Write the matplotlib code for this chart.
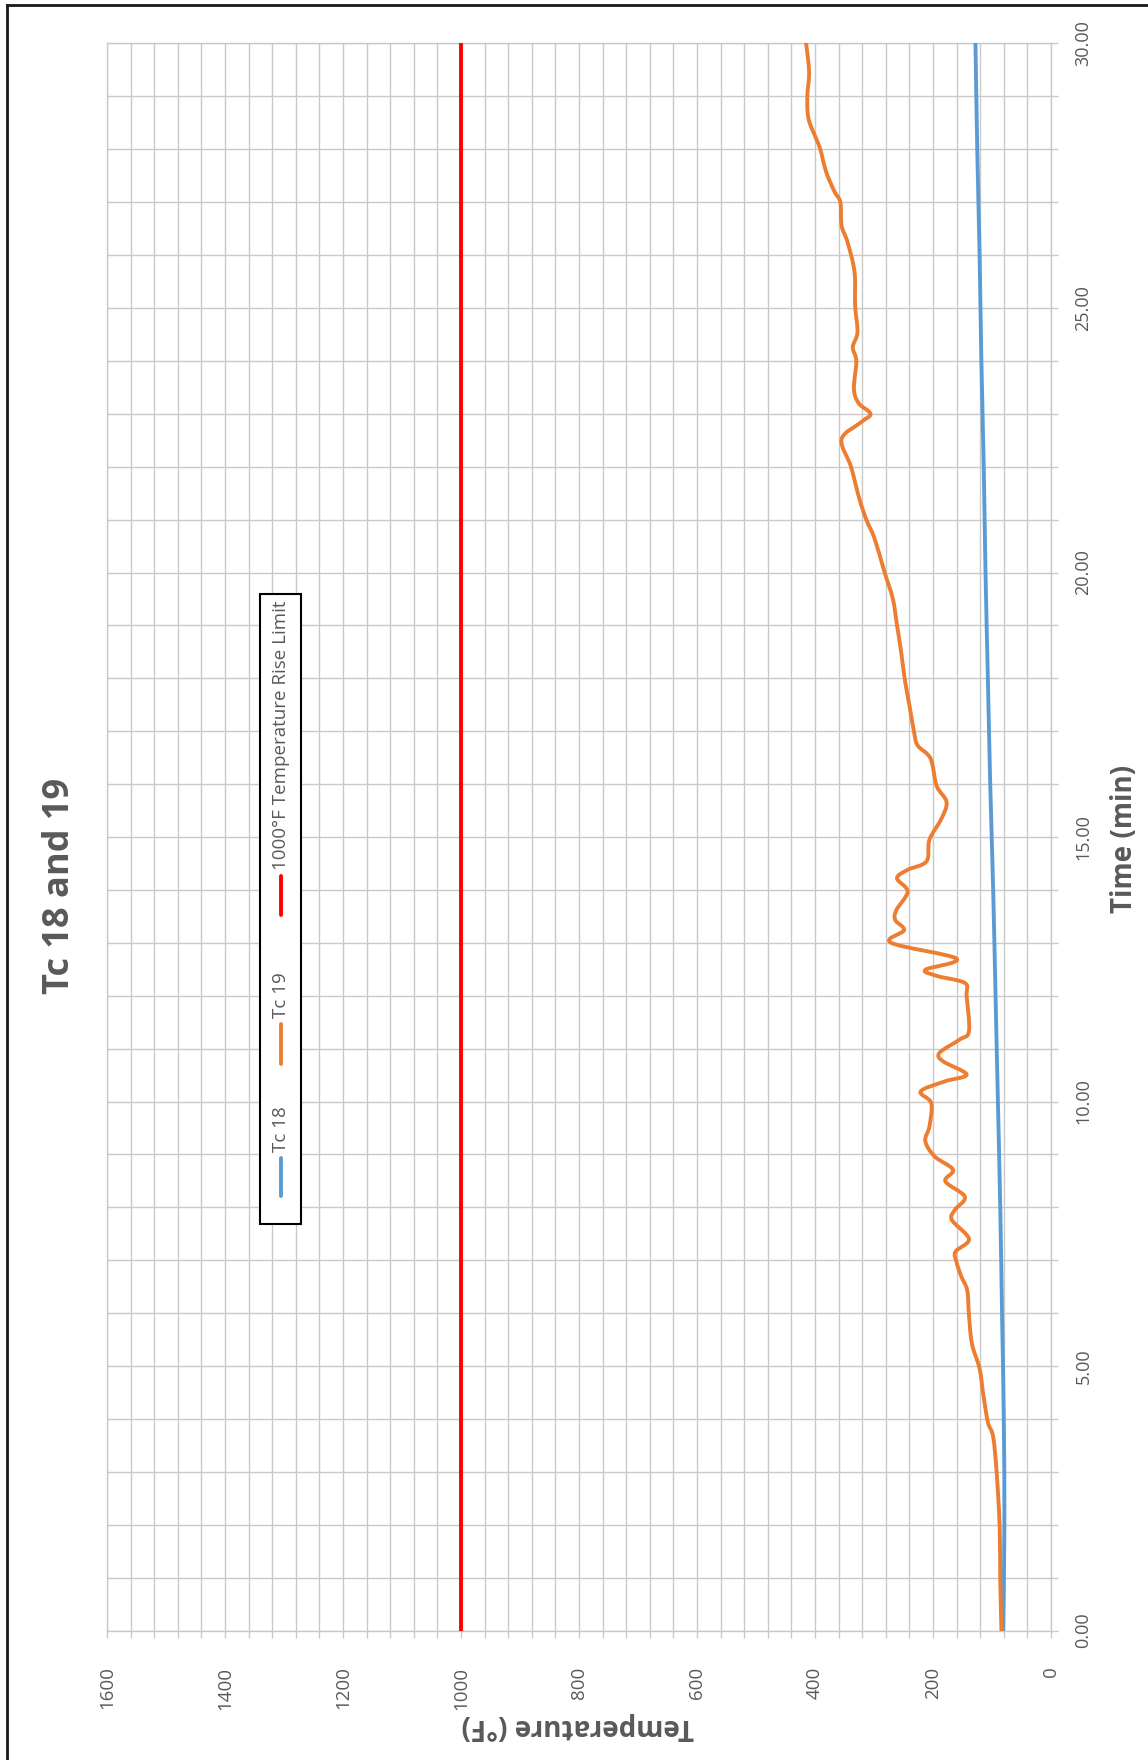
import matplotlib
matplotlib.use("Agg")
import matplotlib.pyplot as plt
from matplotlib.patches import Rectangle, PathPatch
from matplotlib.path import Path
from matplotlib.lines import Line2D
from matplotlib.ticker import MultipleLocator, FormatStrFormatter

plt.rcParams['font.family'] = ['Open Sans', 'DejaVu Sans']

# data (time in min, temperature in F)
time_tc18 = [0, 2, 4, 6, 8, 10, 12, 14, 16, 18, 20, 22, 24, 26, 28, 30]
tc18 = [81, 79, 80, 83, 86, 90, 94, 98, 103, 107, 111, 114, 118, 121, 125, 128]

time_tc19 = [0.0, 0.95, 1.96, 2.97, 3.66, 3.94, 4.48, 4.95, 5.42, 5.96, 6.43, 6.69,
             6.96, 7.16, 7.4, 7.76, 7.95, 8.2, 8.49, 8.71, 8.96, 9.25, 9.53, 9.97,
             10.19, 10.38, 10.51, 10.76, 10.92, 11.17, 11.33, 11.99, 12.24, 12.37,
             12.49, 12.7, 13.0, 13.24, 13.43, 13.62, 13.97, 14.22, 14.38, 14.54,
             14.95, 15.34, 15.66, 15.97, 16.48, 16.73, 16.98, 17.49, 17.99, 18.5,
             19.0, 19.5, 20.0, 20.64, 21.0, 21.4, 22.0, 22.52, 22.84, 23.0, 23.2,
             23.47, 24.0, 24.26, 24.54, 25.05, 25.68, 26.25, 26.56, 27.0, 27.2,
             27.57, 28.0, 28.2, 28.58, 29.0, 29.46, 30.0]
tc19 = [84, 86, 87, 92, 98, 107, 115, 121, 134, 139, 142, 152,
        160, 162, 139, 168, 163, 146, 179, 166, 197, 213, 206, 203,
        221, 180, 143, 183, 189, 155, 139, 143, 146, 192,
        213, 160, 271, 249, 264, 262, 243, 261, 243, 211,
        206, 186, 177, 194, 204, 226, 232, 240, 248, 254,
        261, 268, 282, 299, 313, 325, 339, 355, 322, 306, 326,
        334, 330, 336, 328, 332, 333, 345, 355, 357, 367,
        381, 391, 398, 411, 413, 410, 415]

time_limit = [0, 30]
limit = [1000, 1000]

series_names = ['Tc 18', 'Tc 19', '1000\u00b0F Temperature Rise Limit']
colors = ['#5B9BD5', '#ED7D31', '#FF0000']


def smooth_path(xs, ys):
    # smoothed line through the points (like Excel's smoothed line), bezier segments
    pts = list(zip(xs, ys))
    n = len(pts)
    verts = [pts[0]]
    codes = [Path.MOVETO]
    for i in range(n - 1):
        p0 = pts[max(i - 1, 0)]
        p1 = pts[i]
        p2 = pts[i + 1]
        p3 = pts[min(i + 2, n - 1)]
        c1 = (p1[0] + (p2[0] - p0[0]) / 6, p1[1] + (p2[1] - p0[1]) / 6)
        c2 = (p2[0] - (p3[0] - p1[0]) / 6, p2[1] - (p3[1] - p1[1]) / 6)
        verts += [c1, c2, p2]
        codes += [Path.CURVE4] * 3
    return Path(verts, codes)


W, H = 1148, 1760
fig = plt.figure(figsize=(W / 100, H / 100), dpi=100)
ax = fig.add_axes([107 / W, (H - 1630.5) / H, 944 / W, 1587 / H])

txt = '#595959'
grid_c = '#C9C9C9'

for xs, ys, c in [(tc18, time_tc18, colors[0]), (tc19, time_tc19, colors[1])]:
    ax.add_patch(PathPatch(smooth_path(xs, ys), fill=False, edgecolor=c, lw=2.8,
                           capstyle='round', joinstyle='round', zorder=3))
ax.plot(limit, time_limit, color=colors[2], lw=2.8, zorder=3)

ax.set_xlim(1600, 0)
ax.set_ylim(0, 30)
ax.xaxis.set_major_locator(MultipleLocator(200))
ax.xaxis.set_minor_locator(MultipleLocator(40))
ax.yaxis.set_major_locator(MultipleLocator(5))
ax.yaxis.set_minor_locator(MultipleLocator(1))
ax.yaxis.set_major_formatter(FormatStrFormatter('%.2f'))
ax.yaxis.tick_right()

ax.grid(True, which='both', color=grid_c, lw=1.0)
ax.set_axisbelow(True)
for s in ax.spines.values():
    s.set_color(grid_c)
    s.set_linewidth(1.0)

ax.tick_params(axis='both', which='both', color=grid_c, length=5, width=1.0)
ax.tick_params(axis='x', which='major', labelsize=13.5, labelcolor=txt,
               labelrotation=90, pad=21)
ax.tick_params(axis='y', which='major', labelsize=13, labelcolor=txt,
               labelrotation=90, pad=12)
for lab in ax.get_yticklabels():
    lab.set_va('center')

fig.text(60 / W, (H - 886) / H, 'Tc 18 and 19', rotation=90, ha='center', va='center',
         fontsize=26, fontweight='bold', color=txt)
fig.text(1125 / W, (H - 839) / H, 'Time (min)', rotation=90, ha='center', va='center',
         fontsize=20, fontweight='bold', color=txt)
fig.text(578 / W, (H - 1726) / H, 'Temperature (\u00b0F)', rotation=180, ha='center',
         va='center', fontsize=20, fontweight='bold', color=txt)

# legend, drawn rotated like the rest of the chart
lax = fig.add_axes([260 / W, (H - 1224) / H, 41 / W, 630 / H])
lax.set_xlim(0, 41)
lax.set_ylim(1224, 594)
lax.axis('off')
lax.add_patch(Rectangle((0, 594), 41, 630, fill=True, facecolor='white',
                        edgecolor='black', lw=1.5, clip_on=False))
entry_pos = [(1196, 1158), (1064, 1024), (915, 876)]
for (y0, y1), name, c in zip(entry_pos, series_names, colors):
    lax.plot([20.5, 20.5], [y0, y1], color=c, lw=2.8, solid_capstyle='round')
    lax.text(20.5, y1 - 6, name, rotation=90, ha='center', va='bottom',
             fontsize=13.5, color=txt)

# outer frame (top and left edges)
fig.add_artist(Line2D([7 / W, 1], [(H - 5) / H, (H - 5) / H], color='#1a1a1a', lw=2))
fig.add_artist(Line2D([7 / W, 7 / W], [0, (H - 5) / H], color='#1a1a1a', lw=2))

fig.savefig('out.png', dpi=100)
